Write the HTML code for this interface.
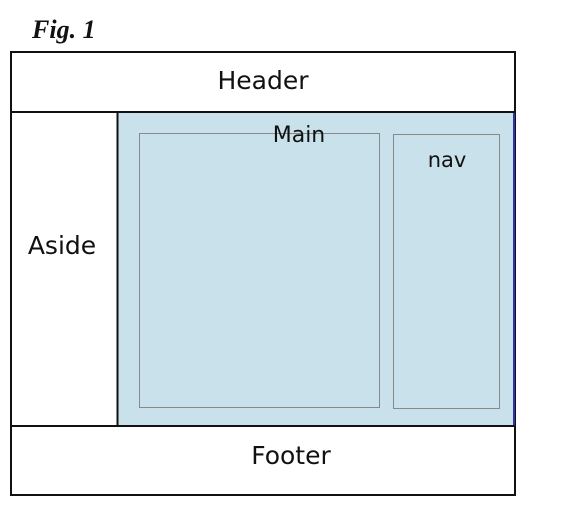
<!DOCTYPE html>
<html><head><meta charset="utf-8"><style>
html,body{margin:0;padding:0;background:#fff;width:563px;height:531px;overflow:hidden}
</style></head><body>
<svg width="563" height="531" viewBox="0 0 563 531" xmlns="http://www.w3.org/2000/svg">
<text x="32" y="38" font-family="Liberation Serif, serif" font-style="italic" font-weight="bold" font-size="26" fill="#111">Fig. 1</text>
<rect x="117" y="112" width="397" height="314" fill="#c9e1eb"/>
<rect x="11" y="52" width="504" height="443" fill="none" stroke="#111" stroke-width="2"/>
<line x1="514" y1="113" x2="514" y2="425" stroke="#3030b0" stroke-width="2"/>
<line x1="11" y1="112" x2="515" y2="112" stroke="#111" stroke-width="2"/>
<line x1="11" y1="426" x2="515" y2="426" stroke="#111" stroke-width="2"/>
<line x1="117.5" y1="112" x2="117.5" y2="426" stroke="#111" stroke-width="2"/>
<rect x="139.5" y="133.5" width="240" height="274" fill="none" stroke="#888" stroke-width="1"/>
<rect x="393.5" y="134.5" width="106" height="274" fill="none" stroke="#888" stroke-width="1"/>
<g font-family="DejaVu Sans, Liberation Sans, sans-serif" font-size="25" fill="#111" text-anchor="middle">
<text x="263" y="89">Header</text>
<text x="62" y="254">Aside</text>
<text x="299" y="142" font-size="22">Main</text>
<text x="447" y="167" font-size="21">nav</text>
<text x="291" y="464">Footer</text>
</g>
</svg>
</body></html>
